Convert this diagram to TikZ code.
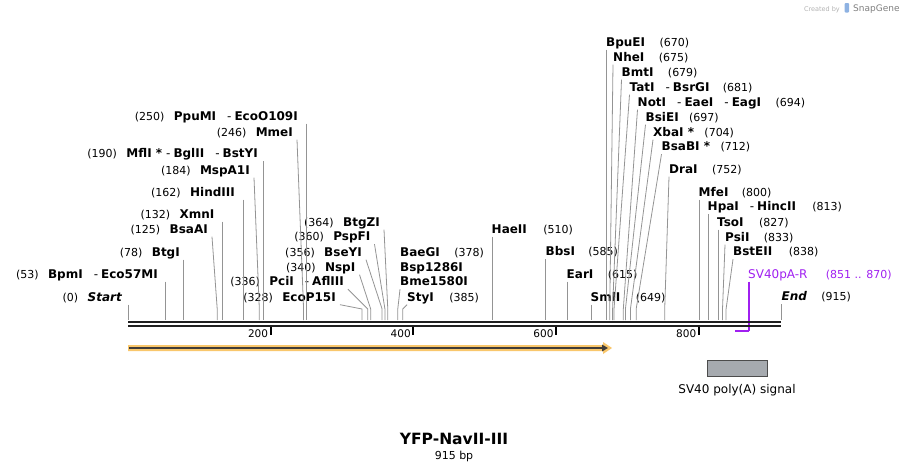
\documentclass[tikz,border=0pt]{standalone}
\usepackage{fontspec}
\setmainfont{DejaVu Sans}
\usetikzlibrary{arrows.meta,positioning}

\definecolor{featorange}{RGB}{249,199,108}
\definecolor{featline}{RGB}{64,60,56}
\definecolor{primerviolet}{RGB}{160,32,240}
\definecolor{polyagray}{RGB}{166,170,175}
\newcommand{\dsep}{\hspace{11pt}{\mdseries -}\hspace{3pt}}

\begin{document}
\begin{tikzpicture}[
  x=1pt, y=-1pt,
  every node/.style={inner xsep=0pt, inner ysep=1pt, text height=8.8pt, text depth=2.2pt},
  enz/.style={font=\fontsize{12}{14}\selectfont\bfseries},
  lsite/.style={enz, anchor=east},
  rsite/.style={enz, anchor=west},
  num/.style={font=\fontsize{11}{13}\selectfont},
  cut/.style={draw=black!42, line width=0.8pt},
  spine/.style={draw=black!88, line width=2.3pt},
  scaletick/.style={draw=black, line width=2pt},
  primer/.style={draw=primerviolet, line width=1.4pt},
]
\useasboundingbox (0,0) rectangle (910,471);

% --- Watermark ---
\node[font=\fontsize{6.5}{8}\selectfont, text=black!30, anchor=east] (credit) at (840,8) {Created by};
\fill[cyan!55!blue!45, rounded corners=1pt] (844.5,3) rectangle (849,12.5);
\node[font=\fontsize{9}{10}\selectfont, text=black!50, anchor=west] (brand) at (853,8) {SnapGene};

% --- Cut sites on the backbone ---
\foreach \n/\b in {Start/0, BpmI/53, BtgI/78, BsaAI/125, XmnI/132, HindIII/162,
    MspA1I/184, MflI/190, MmeI/246, PpuMI/250, EcoP15I/328, PciI/336, NspI/340,
    BseYI/356, PspFI/360, BtgZI/364, Bme1580I/378, StyI/385, HaeII/510, BbsI/585,
    EarI/615, SmlI/649, BpuEI/670, NheI/675, BmtI/679, TatI/681, NotI/694,
    BsiEI/697, XbaI/704, BsaBI/712, DraI/752, MfeI/800, HpaI/813, TsoI/827,
    PsiI/833, BstEII/838, End/915}
  \coordinate (s-\n) at ({128+0.7137*\b},320);

% --- Labels left of their sites ---
\node[lsite] (Start) at (122,298) {\itshape Start};
\node[num, left=9pt of Start] (n0) {(0)};
\node[lsite] (BpmI) at (158,275) {BpmI\dsep Eco57MI};
\node[num, left=9pt of BpmI] (n53) {(53)};
\node[lsite] (BtgI) at (180,253) {BtgI};
\node[num, left=9pt of BtgI] (n78) {(78)};
\node[lsite] (BsaAI) at (208,230) {BsaAI};
\node[num, left=9pt of BsaAI] (n125) {(125)};
\node[lsite] (XmnI) at (214.5,215) {XmnI};
\node[num, left=9pt of XmnI] (n132) {(132)};
\node[lsite] (HindIII) at (235,193) {HindIII};
\node[num, left=9pt of HindIII] (n162) {(162)};
\node[lsite] (MspA1I) at (250,171) {MspA1I};
\node[num, left=9pt of MspA1I] (n184) {(184)};
\node[lsite] (MflI) at (258,154.5) {MflI *\hspace{4pt}{\mdseries -}\hspace{3pt}BglII\dsep BstYI};
\node[num, left=9pt of MflI] (n190) {(190)};
\node[lsite] (MmeI) at (293,133) {MmeI};
\node[num, left=9pt of MmeI] (n246) {(246)};
\node[lsite] (PpuMI) at (298,117) {PpuMI\dsep EcoO109I};
\node[num, left=9pt of PpuMI] (n250) {(250)};
\node[lsite] (EcoP15I) at (336,298) {EcoP15I};
\node[num, left=9pt of EcoP15I] (n328) {(328)};
\node[lsite] (PciI) at (344,282.5) {PciI\dsep AflIII};
\node[num, left=9pt of PciI] (n336) {(336)};
\node[lsite] (NspI) at (355.5,268) {NspI};
\node[num, left=9pt of NspI] (n340) {(340)};
\node[lsite] (BseYI) at (362,253) {BseYI};
\node[num, left=9pt of BseYI] (n356) {(356)};
\node[lsite] (PspFI) at (370.5,237.5) {PspFI};
\node[num, left=9pt of PspFI] (n360) {(360)};
\node[lsite] (BtgZI) at (380,223) {BtgZI};
\node[num, left=9pt of BtgZI] (n364) {(364)};

% --- Labels right of their sites ---
\node[rsite] (BaeGI) at (400,253) {BaeGI};
\node[num, right=14pt of BaeGI] (n378) {(378)};
\node[rsite] (Bsp1286I) at (400,268) {Bsp1286I};
\node[rsite] (Bme1580I) at (400,282.5) {Bme1580I};
\node[rsite] (StyI) at (407,298) {StyI};
\node[num, right=15pt of StyI] (n385) {(385)};
\node[rsite] (HaeII) at (491.5,230) {HaeII};
\node[num, right=16pt of HaeII] (n510) {(510)};
\node[rsite] (BbsI) at (545.5,252.5) {BbsI};
\node[num, right=13pt of BbsI] (n585) {(585)};
\node[rsite] (EarI) at (566.5,275) {EarI};
\node[num, right=14pt of EarI] (n615) {(615)};
\node[rsite] (SmlI) at (590.5,298) {SmlI};
\node[num, right=15pt of SmlI] (n649) {(649)};
\node[rsite] (BpuEI) at (606,43) {BpuEI};
\node[num, right=14pt of BpuEI] (n670) {(670)};
\node[rsite] (NheI) at (613,58) {NheI};
\node[num, right=14pt of NheI] (n675) {(675)};
\node[rsite] (BmtI) at (621.5,73) {BmtI};
\node[num, right=14pt of BmtI] (n679) {(679)};
\node[rsite] (TatI) at (629.5,88) {TatI\dsep BsrGI};
\node[num, right=13pt of TatI] (n681) {(681)};
\node[rsite] (NotI) at (637.5,103) {NotI\dsep EaeI\dsep EagI};
\node[num, right=14pt of NotI] (n694) {(694)};
\node[rsite] (BsiEI) at (645.5,118) {BsiEI};
\node[num, right=10pt of BsiEI] (n697) {(697)};
\node[rsite] (XbaI) at (653,133) {XbaI *};
\node[num, right=10pt of XbaI] (n704) {(704)};
\node[rsite] (BsaBI) at (661.5,147.5) {BsaBI *};
\node[num, right=10pt of BsaBI] (n712) {(712)};
\node[rsite] (DraI) at (669,170) {DraI};
\node[num, right=14pt of DraI] (n752) {(752)};
\node[rsite] (MfeI) at (698.5,193) {MfeI};
\node[num, right=13pt of MfeI] (n800) {(800)};
\node[rsite] (HpaI) at (707.5,207.5) {HpaI\dsep HincII};
\node[num, right=16pt of HpaI] (n813) {(813)};
\node[rsite] (TsoI) at (717,223) {TsoI};
\node[num, right=15pt of TsoI] (n827) {(827)};
\node[rsite] (PsiI) at (725,238) {PsiI};
\node[num, right=14pt of PsiI] (n833) {(833)};
\node[rsite] (BstEII) at (733,252.5) {BstEII};
\node[num, right=16pt of BstEII] (n838) {(838)};
\node[rsite] (End) at (781.5,297.5) {\itshape End};
\node[num, right=14pt of End] (n915) {(915)};

% --- Connectors to the sites ---
\foreach \n in {Start,BpmI,BtgI,XmnI,HindIII,MflI,PpuMI,HaeII,BbsI,EarI,SmlI,BpuEI,MfeI,HpaI,TsoI,End}
  \draw[cut] (s-\n |- \n.south) -- (s-\n);
\foreach \n in {BsaAI,MspA1I,MmeI,EcoP15I,PciI,NspI,BseYI,PspFI,BtgZI}
  \draw[cut] ([xshift=4pt]\n.south east) -- ([yshift=11pt]s-\n) -- (s-\n);
\foreach \n in {Bme1580I,StyI,NheI,BmtI,TatI,NotI,BsiEI,XbaI,BsaBI,DraI,PsiI,BstEII}
  \draw[cut] (\n.south west) -- ([yshift=11pt]s-\n) -- (s-\n);

% --- Primer ---
\node[anchor=west, font=\fontsize{12}{14}\selectfont, text=primerviolet] (SVpA) at (748,275) {SV40pA-R};
\node[num, right=18pt of SVpA, text=primerviolet] (n851) {(851 .. 870)};
\coordinate (pr1) at ({128+0.7137*851},331);
\coordinate (pr2) at ({128+0.7137*870},331);
\draw[primer] (pr2 |- SVpA.south) -- (pr2);
\draw[primer, line width=2pt] (pr1) -- (pr2);

% --- Backbone ---
\draw[spine] (128,322) -- (781,322);
\draw[spine] (128,326.2) -- (781,326.2);
\foreach \tk in {200,400,600,800} {
  \draw[scaletick] ({128+0.7137*\tk},327) -- ++(0,8);
  \node[font=\fontsize{10.5}{12}\selectfont, anchor=east] (tk\tk) at ({128+0.7137*\tk-2.5},334) {\tk};
}

% --- YFP feature ---
\fill[featorange] (128,345) -- (603,345) -- (603,342) -- (612,348) -- (603,354) -- (603,351) -- (128,351) -- cycle;
\draw[draw=featline, line width=2pt, -{Triangle[length=6pt,width=6.5pt]}] (129,348) -- (608,348);

% --- SV40 poly(A) signal ---
\node[draw=black!70, fill=polyagray, line width=0.8pt, minimum width=60pt, minimum height=16pt] (polyA) at (737,368) {};
\node[below=7pt of polyA, font=\fontsize{12}{14}\selectfont] (polyAlbl) {SV40 poly(A) signal};

% --- Title ---
\node[font=\fontsize{15.5}{17}\selectfont\bfseries] (title) at (454,441) {YFP-NavII-III};
\node[num] (size) at (454,456) {915 bp};

\end{tikzpicture}
\end{document}
